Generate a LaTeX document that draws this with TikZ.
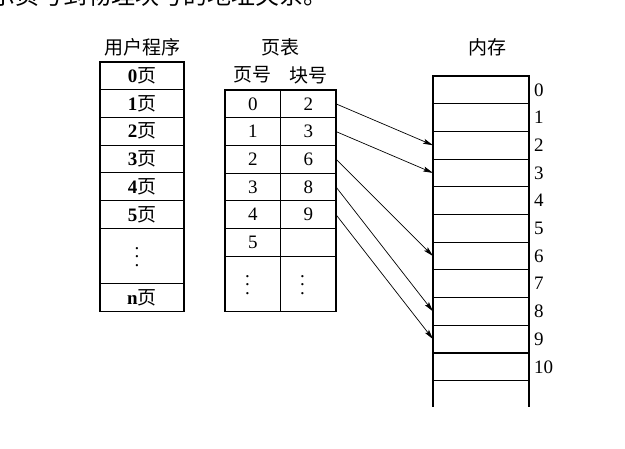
\documentclass[tikz,border=0pt]{standalone}
\usepackage{fontspec}
\setmainfont{Liberation Serif}
\newfontfamily\cjk{Noto Sans CJK SC}
\usetikzlibrary{arrows.meta}
\begin{document}
\begin{tikzpicture}[x=1pt,y=-1pt,
  txt/.style={font=\fontsize{19}{22}\selectfont, inner sep=0pt},
  cell/.style={draw, line width=1.1pt, inner sep=0pt, outer sep=0pt, minimum height=27.7pt, font=\fontsize{19}{22}\selectfont},
  ucell/.style={cell, minimum width=84pt},
  pcell/.style={cell, minimum width=55.5pt},
  mcell/.style={cell, minimum width=96pt},
  arr/.style={line width=0.7pt, -{Stealth[length=10pt,width=5pt,inset=2pt]}},
  dotsnode/.style={font=\fontsize{19}{8.6}\selectfont, inner sep=0pt, align=center}
]
\useasboundingbox (0,0) rectangle (625,449);

% cut-off caption at top
\node[anchor=base west, font=\cjk\fontsize{24}{26}\selectfont, inner sep=0pt] (cap) at (-9,5) {示页号到物理块号的地址关系。};

% titles
\node[txt] (tu) at (142,47) {\cjk 用户程序};
\node[txt] (tp) at (280,47) {\cjk 页表};
\node[txt] (tm) at (487,47) {\cjk 内存};
\node[txt] (hp) at (252.75,75) {\cjk 页号};
\node[txt] (hb) at (308.25,75) {\cjk 块号};

% user program
\node[ucell] (u0) at (142,75.85)  {\textbf{0}\cjk 页};
\node[ucell] (u1) at (142,103.55) {\textbf{1}\cjk 页};
\node[ucell] (u2) at (142,131.25) {\textbf{2}\cjk 页};
\node[ucell] (u3) at (142,158.95) {\textbf{3}\cjk 页};
\node[ucell] (u4) at (142,186.65) {\textbf{4}\cjk 页};
\node[ucell] (u5) at (142,214.35) {\textbf{5}\cjk 页};
\node[ucell, minimum height=55.4pt] (ud) at (142,255.9) {};
\node[dotsnode] (udots) at (137,257) {.\\.\\.};
\node[ucell] (un) at (142,297.45) {\textbf{n}\cjk 页};

% page table
\node[pcell] (p0) at (252.75,103.85) {0};
\node[pcell] (p1) at (252.75,131.55) {1};
\node[pcell] (p2) at (252.75,159.25) {2};
\node[pcell] (p3) at (252.75,186.95) {3};
\node[pcell] (p4) at (252.75,214.65) {4};
\node[pcell] (p5) at (252.75,242.35) {5};
\node[pcell, minimum height=55.4pt] (pd) at (252.75,283.9) {};
\node[dotsnode] (pdots) at (247.5,285) {.\\.\\.};

\node[pcell] (b0) at (308.25,103.85) {2};
\node[pcell] (b1) at (308.25,131.55) {3};
\node[pcell] (b2) at (308.25,159.25) {6};
\node[pcell] (b3) at (308.25,186.95) {8};
\node[pcell] (b4) at (308.25,214.65) {9};
\node[pcell] (b5) at (308.25,242.35) {};
\node[pcell, minimum height=55.4pt] (bd) at (308.25,283.9) {};
\node[dotsnode] (bdots) at (302.5,285) {.\\.\\.};

% memory
\foreach \i in {0,...,10} {
  \node[mcell] (m\i) at (481,89.85+27.7*\i) {};
  \node[txt, anchor=west] (ml\i) at (534,89.85+27.7*\i) {\i};
}
\coordinate (mbl) at (433,407);
\coordinate (mbr) at (529,407);
\draw[line width=1.1pt] (m10.south west) -- (mbl);
\draw[line width=1.1pt] (m10.south east) -- (mbr);

% mapping arrows
\draw[arr] (b0.east) -- (m2.west);
\draw[arr] (b1.east) -- (m3.west);
\draw[arr] (b2.east) -- (m6.west);
\draw[arr] (b3.east) -- (m8.west);
\draw[arr] (b4.east) -- (m9.west);
\end{tikzpicture}
\end{document}
